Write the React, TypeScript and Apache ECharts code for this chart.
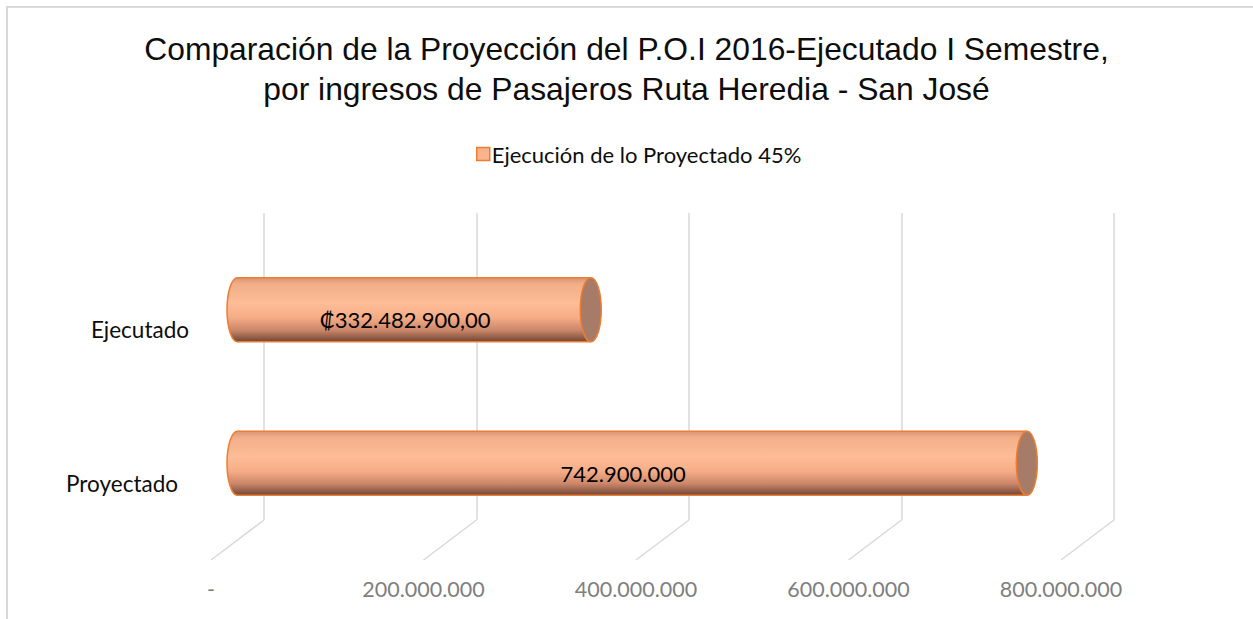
import React, { useEffect, useRef } from "react";
import * as echarts from "echarts";

const titleLines = [
  "Comparación de la Proyección del P.O.I 2016-Ejecutado I Semestre,",
  "por ingresos de Pasajeros Ruta Heredia - San José",
];
const seriesName = "Ejecución de lo Proyectado 45%";
const categories = ["Proyectado", "Ejecutado"];
const values = [742900000, 332482900];
const valueLabels = ["742.900.000", "₡332.482.900,00"];
const ticks = [0, 200000000, 400000000, 600000000, 800000000];
const tickLabels = ["-", "200.000.000", "400.000.000", "600.000.000", "800.000.000"];

const FONT = 'Lato, "Open Sans", "DejaVu Sans", sans-serif';
const ORANGE = "#ED7D31";
const DEPTH_X = -53;
const DEPTH_Y = 40;

export default function App() {
  const ref = useRef<HTMLDivElement>(null);
  useEffect(() => {
    if (!ref.current) return;
    const chart = echarts.init(ref.current, null, { renderer: "svg" });

    const bodyGrad = () =>
      new echarts.graphic.LinearGradient(0, 0, 0, 1, [
        { offset: 0, color: "#D99573" },
        { offset: 0.1, color: "#F2AE89" },
        { offset: 0.4, color: "#FDBD97" },
        { offset: 0.62, color: "#F6AD87" },
        { offset: 0.82, color: "#CB8669" },
        { offset: 1, color: "#6C4636" },
      ]);

    const option: any = {
      animation: false,
      backgroundColor: "#ffffff",
      title: {
        text: titleLines.join("\n"),
        left: "center",
        top: 24,
        textStyle: {
          fontFamily: '"Liberation Sans", Arial, sans-serif',
          fontSize: 31.8,
          fontWeight: "normal",
          color: "#0D0D0D",
          lineHeight: 40,
        },
      },
      legend: {
        left: 471,
        top: 138,
        itemWidth: 13,
        itemHeight: 13,
        icon: "rect",
        textStyle: { fontFamily: FONT, fontSize: 22, color: "#0D0D0D", padding: [0, 0, 0, -3] },
        data: [
          {
            name: seriesName,
            itemStyle: { color: "#F9B48E", borderColor: ORANGE, borderWidth: 1.5 },
          },
        ],
      },
      graphic: [
        { type: "line", shape: { x1: 7, y1: 7, x2: 7, y2: 619 }, style: { stroke: "#D9D9D9", lineWidth: 2 } },
        { type: "line", shape: { x1: 6, y1: 7, x2: 1253, y2: 7 }, style: { stroke: "#D9D9D9", lineWidth: 2 } },
      ],
      grid: [
        { left: 264, top: 213, width: 850, height: 307 },
        { left: 264 + DEPTH_X, top: 213 + DEPTH_Y, width: 850, height: 307 },
      ],
      xAxis: [
        {
          type: "value",
          gridIndex: 0,
          min: 0,
          max: 800000000,
          interval: 200000000,
          axisLine: { show: false },
          axisTick: { show: false },
          axisLabel: { show: false },
          splitLine: { show: true, lineStyle: { color: "#D9D9D9", width: 1.5 } },
        },
        {
          type: "value",
          gridIndex: 1,
          min: 0,
          max: 800000000,
          interval: 200000000,
          axisLine: { show: false },
          axisTick: { show: false },
          splitLine: { show: false },
          axisLabel: {
            margin: 18,
            fontFamily: FONT,
            fontSize: 21.5,
            color: "#7F7F7F",
            formatter: (v: number) => {
              const i = ticks.indexOf(v);
              return i >= 0 ? tickLabels[i] : "";
            },
          },
        },
      ],
      yAxis: [
        {
          type: "category",
          gridIndex: 0,
          data: categories,
          axisLine: { show: false },
          axisTick: { show: false },
          axisLabel: { show: false },
          splitLine: { show: false },
        },
        {
          type: "category",
          gridIndex: 1,
          data: categories,
          axisLine: { show: false },
          axisTick: { show: false },
          splitLine: { show: false },
          axisLabel: {
            margin: 22,
            fontFamily: FONT,
            fontSize: 22.5,
            color: "#0D0D0D",
            formatter: (v: string) => (v === "Proyectado" ? `{p|${v}}` : `{e|${v}}`),
            rich: {
              p: { fontFamily: FONT, fontSize: 22.5, color: "#0D0D0D", padding: [0, 11, 0, 0] },
              e: { fontFamily: FONT, fontSize: 22.5, color: "#0D0D0D" },
            },
          },
        },
      ],
      series: [
        {
          type: "custom",
          name: "floor",
          xAxisIndex: 0,
          yAxisIndex: 0,
          clip: false,
          silent: true,
          data: ticks.map((t) => [t]),
          renderItem: (params: any, api: any) => {
            const cs = params.coordSys;
            const x = api.coord([api.value(0), 0])[0];
            const yb = cs.y + cs.height;
            return {
              type: "line",
              shape: { x1: x, y1: yb, x2: x + DEPTH_X, y2: yb + DEPTH_Y },
              style: { stroke: "#D9D9D9", lineWidth: 1.5 },
            };
          },
        },
        {
          type: "custom",
          name: seriesName,
          xAxisIndex: 0,
          yAxisIndex: 0,
          clip: false,
          itemStyle: { color: "#F9B48E", borderColor: ORANGE, borderWidth: 1.5 },
          data: values.map((v, i) => [v, i]),
          renderItem: (params: any, api: any) => {
            const v = api.value(0);
            const c = api.value(1);
            const start = api.coord([0, c]);
            const end = api.coord([v, c]);
            const band = api.size([0, 1])[1];
            const ry = band * 0.209;
            const rx = 10.5;
            const dx = DEPTH_X / 2;
            const dy = DEPTH_Y / 2;
            const lx = start[0] + dx;
            const rxp = end[0] + dx;
            const cy = start[1] + dy;
            return {
              type: "group",
              children: [
                {
                  type: "ellipse",
                  shape: { cx: lx, cy, rx, ry },
                  style: { fill: bodyGrad(), stroke: ORANGE, lineWidth: 1.5 },
                },
                {
                  type: "rect",
                  shape: { x: lx, y: cy - ry, width: rxp - lx, height: ry * 2 },
                  style: { fill: bodyGrad() },
                },
                {
                  type: "line",
                  shape: { x1: lx, y1: cy - ry, x2: rxp, y2: cy - ry },
                  style: { stroke: ORANGE, lineWidth: 1.5 },
                },
                {
                  type: "line",
                  shape: { x1: lx, y1: cy + ry, x2: rxp, y2: cy + ry },
                  style: { stroke: ORANGE, lineWidth: 1.5 },
                },
                {
                  type: "ellipse",
                  shape: { cx: rxp, cy, rx, ry },
                  style: { fill: "#A67C69", stroke: ORANGE, lineWidth: 1.5 },
                },
                {
                  type: "text",
                  x: (lx + rxp) / 2 - 9,
                  y: cy + 10,
                  style: {
                    text: valueLabels[params.dataIndex],
                    fontFamily: FONT,
                    fontSize: 22,
                    fill: "#000000",
                    align: "center",
                    verticalAlign: "middle",
                  },
                },
              ],
            };
          },
        },
      ],
    };
    chart.setOption(option);
    return () => chart.dispose();
  }, []);

  return (
    <div
      ref={ref}
      style={{ position: "absolute", left: 0, top: 0, width: 1253, height: 619 }}
    />
  );
}
